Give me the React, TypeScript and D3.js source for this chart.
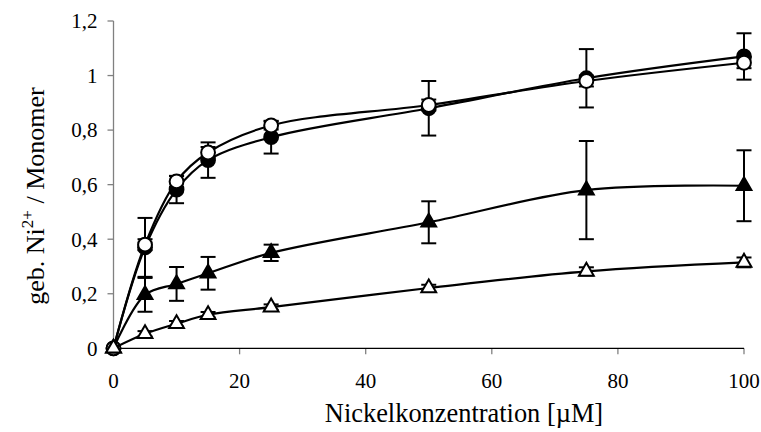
import { useEffect, useRef } from "react";
import * as d3 from "d3";

// Nickel concentration (µM)
const conc = [0, 5, 10, 15, 25, 50, 75, 100];

// bound Ni2+ per monomer, four series
const filledCircle = [0, 0.37, 0.582, 0.69, 0.774, 0.88, 0.99, 1.07];
const filledCircleErr = [0, 0.108, 0.05, 0.065, 0.06, 0.1, 0.107, 0.085];

const openCircle = [0, 0.38, 0.612, 0.718, 0.817, 0.892, 0.98, 1.047];
const openCircleErr = [0, 0.02, 0.02, 0.02, 0.015, 0.02, 0.02, 0.02];

const filledTri = [0, 0.196, 0.236, 0.275, 0.35, 0.462, 0.58, 0.596];
const filledTriErr = [0, 0.062, 0.062, 0.06, 0.03, 0.077, 0.18, 0.13];

const openTri = [0, 0.053, 0.09, 0.123, 0.151, 0.221, 0.282, 0.315];
const openTriErr = [0, 0.01, 0.01, 0.01, 0.01, 0.012, 0.015, 0.018];

const xTicks = [0, 20, 40, 60, 80, 100];
const yTicks = [0, 0.2, 0.4, 0.6, 0.8, 1, 1.2];

const FONT = "'Liberation Serif', 'Times New Roman', serif";

function App() {
  const ref = useRef<SVGSVGElement>(null);

  useEffect(() => {
    const svg = d3.select(ref.current);
    svg.selectAll("*").remove();

    const x = d3.scaleLinear([0, 100], [113.5, 744]);
    const y = d3.scaleLinear([0, 1.2], [348.3, 21]);

    const fmt = (v: number) => String(v).replace(".", ",");

    // y axis (grey)
    const yAxis = svg.append("g").attr("transform", `translate(${x(0)},0)`);
    yAxis.append("line")
      .attr("y1", y(0)).attr("y2", y(1.2))
      .attr("stroke", "#808080").attr("stroke-width", 1.3);
    yAxis.selectAll("line.tick")
      .data(yTicks)
      .join("line")
      .attr("class", "tick")
      .attr("x1", -6).attr("x2", 0)
      .attr("y1", d => y(d)).attr("y2", d => y(d))
      .attr("stroke", "#808080").attr("stroke-width", 1.3);
    yAxis.selectAll("text")
      .data(yTicks)
      .join("text")
      .attr("x", -16)
      .attr("y", d => y(d))
      .attr("dy", "0.35em")
      .attr("text-anchor", "end")
      .attr("font-family", FONT)
      .attr("font-size", 21)
      .text(d => fmt(d));

    // x axis
    const xAxis = svg.append("g").attr("transform", `translate(0,${y(0)})`);
    xAxis.selectAll("line.tick")
      .data(xTicks.slice(1))
      .join("line")
      .attr("class", "tick")
      .attr("x1", d => x(d)).attr("x2", d => x(d))
      .attr("y1", 0).attr("y2", 6)
      .attr("stroke", "#808080").attr("stroke-width", 1.3);
    xAxis.append("line")
      .attr("x1", x(0)).attr("x2", x(100))
      .attr("stroke", "#000").attr("stroke-width", 1.3);
    xAxis.selectAll("text")
      .data(xTicks)
      .join("text")
      .attr("x", d => x(d))
      .attr("y", 40)
      .attr("text-anchor", "middle")
      .attr("font-family", FONT)
      .attr("font-size", 21)
      .text(d => d);

    // axis titles
    svg.append("text")
      .attr("x", 464)
      .attr("y", 422)
      .attr("text-anchor", "middle")
      .attr("font-family", FONT)
      .attr("font-size", 26.4)
      .text("Nickelkonzentration [µM]");

    const yl = svg.append("text")
      .attr("transform", "translate(44,196) rotate(-90)")
      .attr("text-anchor", "middle")
      .attr("font-family", FONT)
      .attr("font-size", 26);
    yl.append("tspan").text("geb. Ni");
    yl.append("tspan").attr("font-size", 17).attr("dy", -11).text("2+");
    yl.append("tspan").attr("dy", 11).text(" / Monomer");

    const series = [
      { vals: filledCircle, err: filledCircleErr, shape: "circle", fill: "#000" },
      { vals: openCircle, err: openCircleErr, shape: "circle", fill: "#fff" },
      { vals: filledTri, err: filledTriErr, shape: "triangle", fill: "#000" },
      { vals: openTri, err: openTriErr, shape: "triangle", fill: "#fff" },
    ];

    const line = d3.line<number>()
      .x((d, i) => x(conc[i]))
      .y(d => y(d))
      .curve(d3.curveCatmullRom.alpha(0.5));

    series.forEach(s => {
      const g = svg.append("g");

      // error bars
      const eb = g.append("g").attr("stroke", "#000").attr("stroke-width", 2);
      conc.forEach((c, i) => {
        if (!s.err[i]) return;
        const cx = x(c);
        const hi = y(s.vals[i] + s.err[i]);
        const lo = y(s.vals[i] - s.err[i]);
        eb.append("line").attr("x1", cx).attr("x2", cx).attr("y1", hi).attr("y2", lo);
        eb.append("line").attr("x1", cx - 7.5).attr("x2", cx + 7.5).attr("y1", hi).attr("y2", hi);
        eb.append("line").attr("x1", cx - 7.5).attr("x2", cx + 7.5).attr("y1", lo).attr("y2", lo);
      });

      g.append("path")
        .datum(s.vals)
        .attr("d", line)
        .attr("fill", "none")
        .attr("stroke", "#000")
        .attr("stroke-width", 2.2);

      const sym = s.shape === "circle"
        ? d3.symbol(d3.symbolCircle, 150)
        : d3.symbol(d3.symbolTriangle, 95);

      g.selectAll("path.mark")
        .data(s.vals)
        .join("path")
        .attr("class", "mark")
        .attr("transform", (d, i) => `translate(${x(conc[i])},${y(d)})`)
        .attr("d", sym)
        .attr("fill", s.fill)
        .attr("stroke", "#000")
        .attr("stroke-width", 2);
    });
  }, []);

  return (
    <svg
      ref={ref}
      width={761}
      height={432}
      style={{ position: "absolute", left: 0, top: 0, background: "#fff" }}
    />
  );
}

export default App;
